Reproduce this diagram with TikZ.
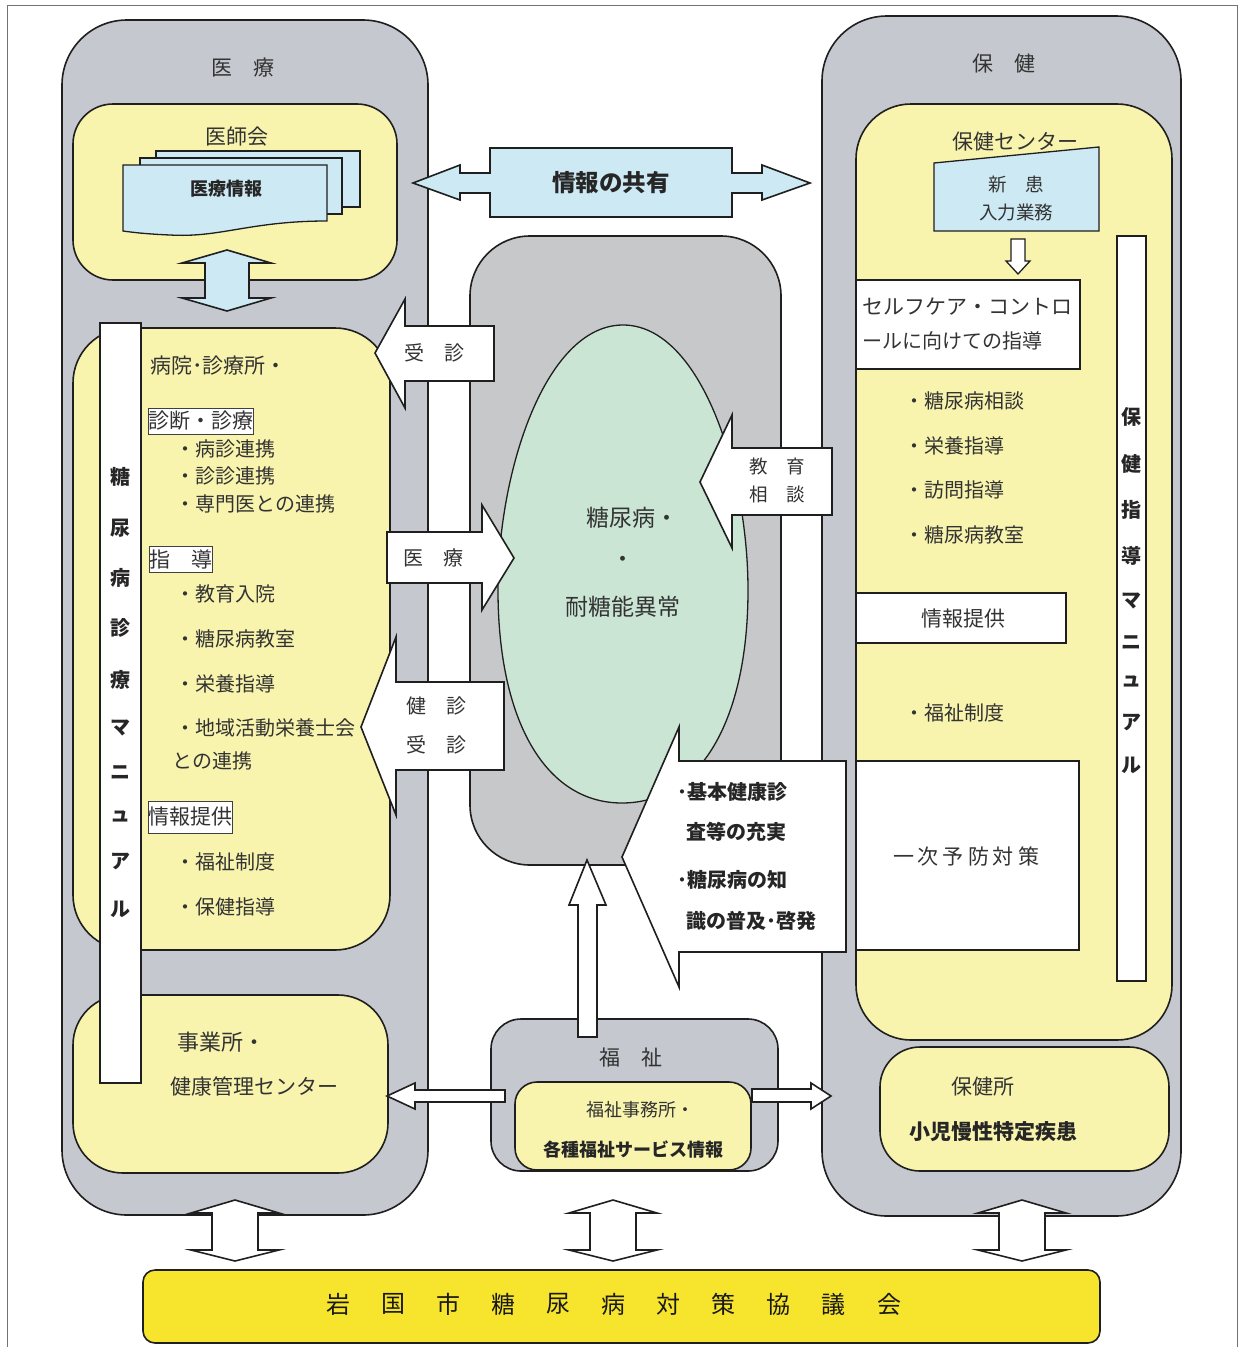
\documentclass[tikz,border=0pt]{standalone}
\usepackage{fontspec}
\setmainfont{Noto Sans CJK JP}
\definecolor{gbox}{HTML}{C5C8CF}
\definecolor{gmid}{HTML}{C7C8CA}
\definecolor{ylw}{HTML}{F8F4AE}
\definecolor{blu}{HTML}{CDEAF4}
\definecolor{grn}{HTML}{CBE5D5}
\definecolor{ybar}{HTML}{F6E52C}
\definecolor{txt}{HTML}{333333}
\newcommand{\fs}[1]{\fontsize{#1}{#1}\selectfont}
\tikzset{
  ln/.style={draw=black!88, line width=1.6pt, line join=miter},
  graybox/.style={ln, fill=gbox},
  ylwbox/.style={ln, fill=ylw},
  whitebox/.style={ln, fill=white},
  blockarrow/.style={ln, fill=white},
  tag/.style={draw=black!75, line width=1pt, fill=white, inner xsep=1.5pt, inner ysep=0pt, minimum height=26pt},
  t/.style={text=txt, inner sep=0pt, font=\fs{20}},
  tb/.style={text=black!85, inner sep=0pt, font=\fs{20}\bfseries},
}
\begin{document}
\begin{tikzpicture}[x=1pt,y=-1pt]
\useasboundingbox (0,0) rectangle (1239,1347);
% outer frame
\draw[black!55, line width=1pt] (7,1347) -- (7,5) -- (1237,5) -- (1237,1347);

% ---------------- big gray containers ----------------
\draw[graybox, rounded corners=65] (62,20) rectangle (428,1215);
\draw[graybox, rounded corners=65] (822,16) rectangle (1181,1216);
\draw[ln, fill=gmid, rounded corners=60] (470,236) rectangle (781,865);
\draw[graybox, rounded corners=30] (491,1019) rectangle (778,1171);

\node[t, font=\fs{21}] (iryo) at (243,68) {医　療};
\node[t, font=\fs{21}] (hoken) at (1004,64) {保　健};
\node[t, font=\fs{21}] (fukushi) at (631,1058) {福　祉};

% ---------------- yellow boxes ----------------
\draw[ylwbox, rounded corners=40] (73,104) rectangle (397,280);
\draw[ylwbox, rounded corners=55] (73,328) rectangle (390,950);
\draw[ylwbox, rounded corners=50] (73,995) rectangle (388,1173);
\draw[ylwbox, rounded corners=55] (856,104) rectangle (1172,1040);
\draw[ylwbox, rounded corners=40] (880,1047) rectangle (1169,1171);
\draw[ylwbox, rounded corners=22] (515,1082) rectangle (751,1170);

% 医師会
\node[t, font=\fs{21}] (ishikai) at (237,137) {医師会};
\draw[ln, fill=blu, line width=1.3pt] (156,151) rectangle (360,207);
\draw[ln, fill=blu, line width=1.3pt] (140,158) rectangle (342,214);
\draw[ln, fill=blu, line width=1.3pt] (123,165) -- (327,165) -- (327,221)
   .. controls (250,221) and (220,238) .. (170,235)
   .. controls (145,234) and (130,232) .. (123,231) -- cycle;
\node[tb, font=\fs{18}\bfseries] (iryojoho) at (226,189) {医療情報};
% blue double arrow
\draw[ln, fill=blu] (227,250) -- (271,263) -- (249,263) -- (249,298) -- (271,298)
   -- (227,311) -- (182,298) -- (205,298) -- (205,263) -- (182,263) -- cycle;

% 病院・診療所
\node[t, anchor=west, font=\fs{21}] (byoin) at (150,366) {病院･診療所・};
\node[tag, t, font=\fs{21}, anchor=west] (shindan) at (148,421) {診断・診療};
\node[t, anchor=west] (b1) at (175,449) {・病診連携};
\node[t, anchor=west] (b2) at (175,476) {・診診連携};
\node[t, anchor=west] (b3) at (175,504) {・専門医との連携};
\node[tag, t, font=\fs{21}, anchor=west] (shido) at (149,559) {指　導};
\node[t, anchor=west] (b4) at (175,594) {・教育入院};
\node[t, anchor=west] (b5) at (175,639) {・糖尿病教室};
\node[t, anchor=west] (b6) at (175,684) {・栄養指導};
\node[t, anchor=west] (b7) at (175,728) {・地域活動栄養士会};
\node[t, anchor=west] (b8) at (172,761) {との連携};
\node[tag, t, font=\fs{21}, anchor=west, minimum height=32pt] (johol) at (148,817) {情報提供};
\node[t, anchor=west] (b9) at (175,862) {・福祉制度};
\node[t, anchor=west] (b10) at (175,907) {・保健指導};

% 事業所
\node[t, anchor=west, font=\fs{22}] (jigyo) at (177,1042) {事業所・};
\node[t, anchor=west, font=\fs{21}] (kenkan) at (170,1086) {健康管理センター};

% white manual bar (left)
\draw[whitebox] (100,323) rectangle (141,1083);
\foreach \c/\y [count=\i] in {糖/477,尿/528,病/578,診/628,療/680,マ/728,ニ/773,ュ/816,ア/861,ル/909}
  \node[tb] (lm\i) at (120.5,\y) {\c};

% ---------------- 保健センター ----------------
\node[t, font=\fs{21}] (hc) at (1015,142) {保健センター};
\draw[ln, fill=blu, line width=1.3pt] (934,163) -- (1099,147) -- (1099,231) -- (934,231) -- cycle;
\node[t, font=\fs{18.5}] (shinkan) at (1016,185) {新　患};
\node[t, font=\fs{18.5}] (nyuryoku) at (1016,212) {入力業務};
\draw[blockarrow, line width=1.3pt] (1018,274) -- (1006,261) -- (1011,261) -- (1011,239)
   -- (1025,239) -- (1025,261) -- (1030,261) -- cycle;
\draw[whitebox] (856,280) rectangle (1080,369);
\node[t, anchor=west, font=\fs{21}] (self1) at (862,307) {セルフケア・コントロ};
\node[t, anchor=west, font=\fs{20}] (self2) at (862,341) {ールに向けての指導};
\node[t, anchor=west] (r1) at (904,401) {・糖尿病相談};
\node[t, anchor=west] (r2) at (904,446) {・栄養指導};
\node[t, anchor=west] (r3) at (904,490) {・訪問指導};
\node[t, anchor=west] (r4) at (904,535) {・糖尿病教室};
\draw[whitebox] (856,593) rectangle (1066,643);
\node[t, font=\fs{21}] (johor) at (963,619) {情報提供};
\node[t, anchor=west] (r5) at (904,713) {・福祉制度};
\draw[whitebox] (856,761) rectangle (1079,950);
\node[t, font=\fs{21}] (ichiji) at (966,856) {一\hspace{4pt}次\hspace{4pt}予\hspace{4pt}防\hspace{4pt}対\hspace{4pt}策};
% white manual bar (right)
\draw[whitebox] (1117,236) rectangle (1146,981);
\foreach \c/\y [count=\i] in {保/417,健/464,指/510,導/556,マ/601,ニ/643,ュ/681,ア/722,ル/765}
  \node[tb] (rm\i) at (1131.5,\y) {\c};

% 保健所
\node[t, font=\fs{21}] (hokenjo) at (983,1087) {保健所};
\node[tb, font=\fs{21}\bfseries] (shoni) at (993,1132) {小児慢性特定疾患};

% 福祉事務所
\node[t, font=\fs{18}] (fjim) at (640,1110) {福祉事務所・};
\node[tb, font=\fs{18}\bfseries] (fserv) at (633,1150) {各種福祉サービス情報};

% ---------------- center ----------------
\draw[ln, fill=grn, line width=1.3pt] (623,325)
   .. controls (700,325) and (748,470) .. (748,590)
   .. controls (748,720) and (700,803) .. (622,803)
   .. controls (545,803) and (498,720) .. (498,590)
   .. controls (498,470) and (546,325) .. (623,325) -- cycle;
\node[t, font=\fs{23}] (tonyo) at (632,518) {糖尿病・};
\node[t, font=\fs{23}] (dot) at (623,562) {・};
\node[t, font=\fs{23}] (taito) at (623,607) {耐糖能異常};

% 情報の共有
\draw[ln, fill=blu] (413,183) -- (460,165) -- (460,173) -- (490,173) -- (490,148)
   -- (732,148) -- (732,173) -- (762,173) -- (762,165) -- (810,183) -- (762,200)
   -- (762,193) -- (732,193) -- (732,217) -- (490,217) -- (490,193) -- (460,193)
   -- (460,200) -- cycle;
\node[tb, font=\fs{23.5}\bfseries] (kyoyu) at (611,183) {情報の共有};

% block arrows
\draw[blockarrow] (375,353) -- (405,299) -- (405,326) -- (494,326) -- (494,381) -- (405,381) -- (405,408) -- cycle;
\node[t] (jushin1) at (434,353) {受　診};
\draw[blockarrow] (387,532) -- (482,532) -- (482,505) -- (514,558) -- (482,610) -- (482,583) -- (387,583) -- cycle;
\node[t] (iryoa) at (433,558) {医　療};
\draw[blockarrow] (361,727) -- (396,637) -- (396,682) -- (504,682) -- (504,770) -- (396,770) -- (396,815) -- cycle;
\node[t] (kenshin) at (436,706) {健　診};
\node[t] (jushin2) at (436,745) {受　診};
\draw[blockarrow] (700,482) -- (732,415) -- (732,448) -- (832,448) -- (832,515) -- (732,515) -- (732,548) -- cycle;
\node[t, font=\fs{18.5}] (kyoiku) at (777,466) {教　育};
\node[t, font=\fs{18.5}] (sodan) at (777,494) {相　談};
\draw[blockarrow] (622,857) -- (679,727) -- (679,761) -- (846,761) -- (846,952) -- (679,952) -- (679,987) -- cycle;
\node[tb, anchor=west, font=\fs{20}\bfseries] (c1) at (677,792) {･基本健康診};
\node[tb, anchor=west, font=\fs{20}\bfseries] (c2) at (686,832) {査等の充実};
\node[tb, anchor=west, font=\fs{20}\bfseries] (c3) at (677,880) {･糖尿病の知};
\node[tb, anchor=west, font=\fs{20}\bfseries] (c4) at (686,921) {識の普及･啓発};

% arrows from 福祉
\draw[blockarrow] (587,860) -- (606,905) -- (597,905) -- (597,1037) -- (578,1037) -- (578,905) -- (569,905) -- cycle;
\draw[blockarrow] (387,1096) -- (415,1083) -- (415,1090) -- (505,1090) -- (505,1102) -- (415,1102) -- (415,1109) -- cycle;
\draw[blockarrow] (831,1096) -- (811,1083) -- (811,1089) -- (752,1089) -- (752,1102) -- (811,1102) -- (811,1109) -- cycle;

% bottom double arrows
\foreach \cx in {235,613,1022}
  \draw[blockarrow] (\cx,1200) -- (\cx+44,1213) -- (\cx+23,1213) -- (\cx+23,1250) -- (\cx+44,1250)
     -- (\cx,1261) -- (\cx-44,1250) -- (\cx-23,1250) -- (\cx-23,1213) -- (\cx-44,1213) -- cycle;

% bottom council bar
\draw[ln, fill=ybar, rounded corners=12] (143,1270) rectangle (1100,1343);
\foreach \c [count=\i from 0] in {岩,国,市,糖,尿,病,対,策,協,議,会}
  \node[t, text=black!90, font=\fs{24}] (k\i) at ({338+55.1*\i},1304) {\c};
\end{tikzpicture}
\end{document}
